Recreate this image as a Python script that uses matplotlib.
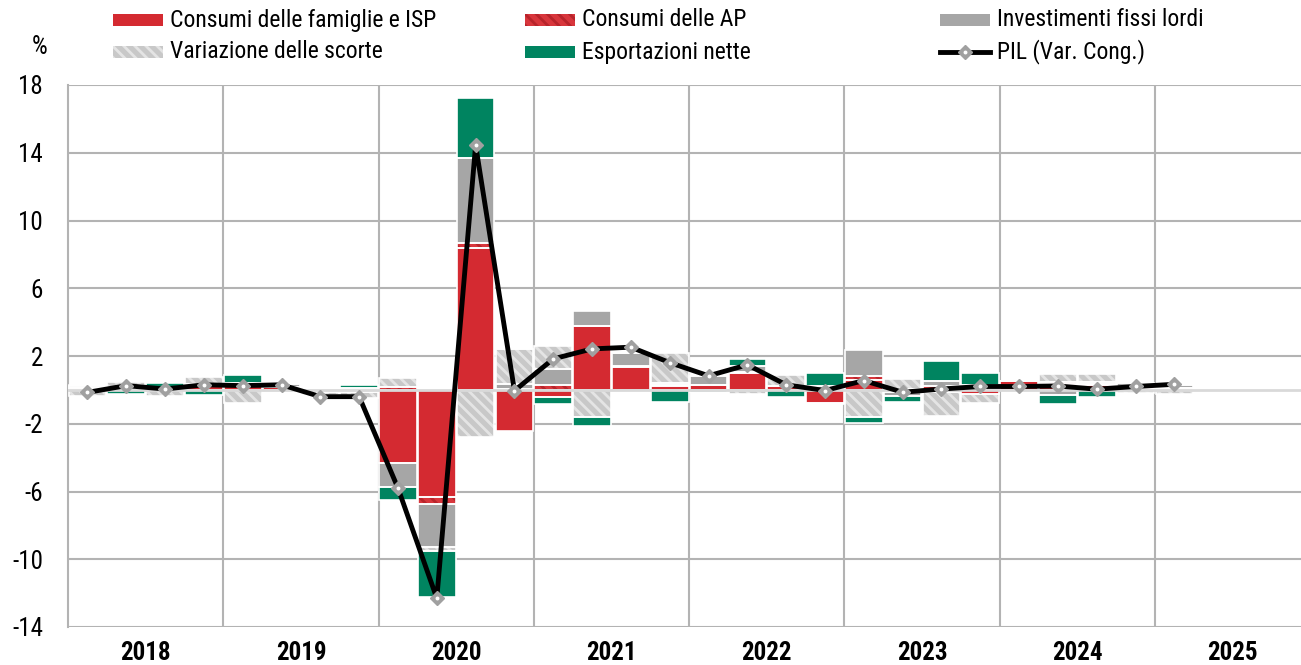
import numpy as np
import matplotlib
matplotlib.use('Agg')
import matplotlib.pyplot as plt
from matplotlib import font_manager
from matplotlib.patches import Rectangle
from matplotlib.lines import Line2D

names = {f.name for f in font_manager.fontManager.ttflist}
FONT = 'Liberation Sans'
FS = 16
LFS = 15
for cand in ['Liberation Sans Narrow', 'Arial Narrow', 'Roboto Condensed']:
    if cand in names:
        FONT = cand
        FS = 18
        LFS = 17
        break
plt.rcParams['font.family'] = [FONT, 'DejaVu Sans']
plt.rcParams['hatch.linewidth'] = 2.0
plt.rcParams['axes.unicode_minus'] = False

# ---------------- data ----------------
years = ['2018', '2019', '2020', '2021', '2022', '2023', '2024', '2025']
quarters = [f'{y}Q{q}' for y in range(2018, 2025) for q in range(1, 5)] + ['2025Q1']

series_labels = ['Consumi delle famiglie e ISP', 'Consumi delle AP', 'Investimenti fissi lordi',
                 'Variazione delle scorte', 'Esportazioni nette', 'PIL (Var. Cong.)']

consumi_famiglie = [0.10, 0.05, 0.05, 0.20, 0.20, 0.15, -0.10, -0.15,
                    -4.30, -6.30, 8.40, -2.45, -0.40, 3.75, 1.35, 0.25,
                    0.30, 1.00, 0.25, -0.75, 0.60, -0.15, -0.15, -0.25,
                    0.50, 0.35, 0.30, 0.10, 0.10]
consumi_ap = [0.00, 0.00, 0.00, 0.00, 0.00, 0.00, 0.00, 0.00,
              0.15, -0.45, 0.30, 0.05, 0.30, 0.05, 0.05, 0.05,
              0.00, 0.05, 0.00, 0.05, 0.20, 0.05, 0.25, 0.05,
              0.05, 0.10, 0.05, 0.05, 0.00]
investimenti = [0.10, 0.00, 0.00, 0.15, 0.20, 0.20, 0.05, 0.10,
                -1.45, -2.55, 5.00, 0.30, 0.95, 0.85, 0.80, 0.10,
                0.50, 0.35, 0.00, 0.20, 1.55, -0.20, 0.25, 0.25,
                0.00, -0.30, 0.10, 0.25, 0.20]
scorte = [-0.35, 0.40, -0.35, 0.40, -0.75, -0.15, -0.20, -0.35,
          0.55, -0.20, -2.80, 2.05, 1.35, -1.60, 0.00, 1.80,
          0.00, -0.25, 0.60, -0.10, -1.60, 0.60, -1.40, -0.55,
          0.00, 0.50, 0.50, -0.20, -0.25]
esportazioni = [0.10, -0.25, 0.35, -0.30, 0.50, 0.05, 0.05, 0.20,
                -0.75, -2.70, 3.55, 0.00, -0.45, -0.55, 0.00, -0.70,
                -0.15, 0.40, -0.40, 0.75, -0.35, -0.35, 1.20, 0.70,
                0.00, -0.55, -0.45, 0.00, 0.00]
pil = [-0.15, 0.25, 0.05, 0.30, 0.25, 0.30, -0.40, -0.40,
       -5.80, -12.30, 14.45, -0.05, 1.83, 2.42, 2.52, 1.61,
       0.83, 1.48, 0.30, -0.04, 0.55, -0.14, 0.05, 0.20,
       0.20, 0.23, 0.04, 0.20, 0.33]

yticks = [-14, -10, -6, -2, 2, 6, 10, 14, 18]

# ---------------- style ----------------
RED = '#d42a31'
GRAY = '#a6a6a6'
LGRAY = '#c8c8c8'
GREEN = '#008460'
GRID = '#b3b3b3'
styles = [
    dict(fc=RED, hatch=None, hc=RED),
    dict(fc='#d8363c', hatch='\\\\\\', hc='#b8242b'),
    dict(fc=GRAY, hatch=None, hc=GRAY),
    dict(fc=LGRAY, hatch='\\\\\\', hc='#e4e4e4'),
    dict(fc=GREEN, hatch=None, hc=GREEN),
]

W, H = 1301, 665
fig = plt.figure(figsize=(W / 100, H / 100), dpi=100)
ax = fig.add_axes([68 / W, 1 - 627 / H, (W - 68) / W, (627 - 85) / H])

n = len(pil)
x = np.arange(n)
pos_base = np.zeros(n)
neg_base = np.zeros(n)
for vals, st in zip([consumi_famiglie, consumi_ap, investimenti, scorte, esportazioni], styles):
    v = np.array(vals, dtype=float)
    bottom = np.where(v >= 0, pos_base, neg_base)
    ax.bar(x, v, bottom=bottom, width=0.97, facecolor=st['fc'], hatch=st['hatch'],
           edgecolor=st['hc'], linewidth=0, zorder=2)
    ax.bar(x, v, bottom=bottom, width=0.97, fill=False, edgecolor='white',
           linewidth=1.2, zorder=3)
    pos_base += np.where(v >= 0, v, 0)
    neg_base += np.where(v < 0, v, 0)

ax.axhline(0, color='#d9d9d9', lw=2, zorder=3.5)

ax.plot(x, pil, color='black', lw=3.5, zorder=5, solid_joinstyle='round')
ax.plot(x, pil, ls='none', marker='D', ms=7, mfc='#a0a0a0', mec='#a0a0a0', zorder=6)
ax.plot(x, pil, ls='none', marker='o', ms=1.8, mfc='white', mec='white', zorder=7)

quarter_px = (1155 - 68) / 28.0
ax.set_xlim(-0.5, -0.5 + (W - 68) / quarter_px)
ax.set_ylim(-14, 18)
ax.set_yticks(yticks)
ax.set_yticklabels([str(t) for t in yticks])
ax.set_xticks([1.5 + 4 * k for k in range(len(years))])
ax.set_xticklabels(years, fontweight='bold')
ax.set_xticks([3.5 + 4 * k for k in range(len(years) - 1)], minor=True)
ax.set_axisbelow(True)
ax.grid(axis='y', which='major', color=GRID, lw=1.5, zorder=0)
ax.grid(axis='x', which='minor', color=GRID, lw=1.5, zorder=0)
ax.tick_params(which='both', length=0)
ax.tick_params(axis='y', labelsize=FS, pad=18)
ax.tick_params(axis='x', labelsize=FS, pad=10)
for s in ['top', 'right', 'bottom']:
    ax.spines[s].set_visible(False)
ax.spines['left'].set_color(GRID)
ax.spines['left'].set_linewidth(1.5)

fig.text(40 / W, 1 - 47 / H, '%', ha='center', va='center', fontsize=FS)

# ---------------- legend ----------------
def fx(px):
    return px / W

def fy(py):
    return 1 - py / H

cols = [113, 525, 940]
rows = [20, 52]
for i in range(len(series_labels)):
    cx = cols[i % 3]
    ry = rows[i // 3]
    if i < 5:
        st = styles[i]
        r = Rectangle((fx(cx), fy(ry + 6)), fx(50), 12 / H, transform=fig.transFigure,
                      facecolor=st['fc'], hatch=st['hatch'], edgecolor=st['hc'], linewidth=0)
        fig.add_artist(r)
    else:
        fig.add_artist(Line2D([fx(cx), fx(cx + 50)], [fy(ry), fy(ry)], transform=fig.transFigure,
                              color='black', lw=3.5))
        fig.add_artist(Line2D([fx(cx + 25)], [fy(ry)], transform=fig.transFigure, ls='none',
                              marker='D', ms=7, mfc='#a0a0a0', mec='#a0a0a0'))
        fig.add_artist(Line2D([fx(cx + 25)], [fy(ry)], transform=fig.transFigure, ls='none',
                              marker='o', ms=1.8, mfc='white', mec='white'))
    fig.text(fx(cx + 57), fy(ry), series_labels[i], ha='left', va='center', fontsize=LFS)

fig.savefig('out.png', dpi=100)
